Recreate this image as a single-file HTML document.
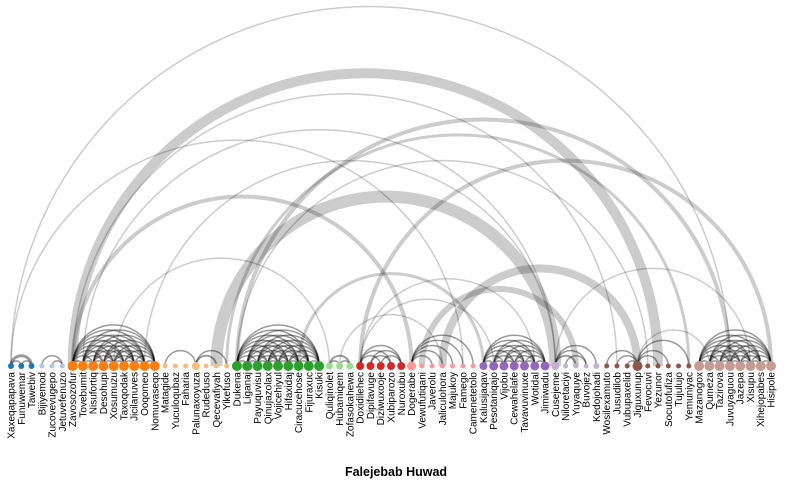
<!DOCTYPE html>
<html><head><meta charset="utf-8">
<style>
html,body{margin:0;padding:0;background:#fff;}
svg{display:block;font-family:"Liberation Sans",sans-serif;}
</style></head>
<body>
<svg id="chart" width="786" height="486" viewBox="0 0 786 486">
<g id="links"></g>
<g id="nodes"></g>
<g id="labels"></g>
<text x="396" y="476" text-anchor="middle" font-size="12.5" font-weight="bold" fill="#000">Falejebab Huwad</text>
</svg>
<script>
const nodeNames = ["Xaxeqapapava","Funuwemar","Tawebiv","Bijiyemod","Zucovevugepo","Jetuvefenuzo","Zavosozofur","Tovebumit","Nisufortiq","Desohupi","Xosumuzu","Taxoqodak","Jicilanuves","Ooqomeo","Nomuvaseqo","Matagide","Yuculoqubaz","Faharia","Palunaxoyuza","Rudeduso","Qecevafiyah","Yikefuso","Dukena","Liganaj","Payuquvisu","Qinujazolax","Vojicehiyul","Hifaxidaj","Ciracucehose","Fijuraxuc","Kisuki","Quliqinolet","Hubamiqem","Zofasokahewa","Doxidilehec","Dipifavuge","Diziwuxooje","Xubiparozo","Nuroxubu","Dogerabe","Vewufutiqani","Javerolu","Jaliculohora","Majukoy","Famego","Camenetetolo","Kalusijaqav","Pesotaniqajo","Vijobu","Cewahelafe","Tavavuvinuxe","Wotidal","Jimiwadu","Cusejeme","Niloretaciyi","Yuyaquye","Buvojez","Kedojohadi","Wosilexamuto","Jusudilob","Vubupaxelid","Jiguxunup","Fevocuvi","Yezunor","Socutofufiza","Tujulujo","Yemuniyac","Mazanogox","Qumeza","Tazirova","Juvuyaguou","Jazepa","Xisupu","Xihejopabes","Hisipole"];
const nodeGroups = [0,0,0,1,1,1,2,2,2,2,2,2,2,2,2,3,3,3,3,3,3,3,4,4,4,4,4,4,4,4,4,5,5,5,6,6,6,6,6,7,7,7,7,7,7,7,8,8,8,8,8,8,8,9,9,9,9,9,10,10,10,10,10,10,10,10,10,11,11,11,11,11,11,11,11];
const nodeSizes = [3,3,3,2.5,2.5,2.5,5,5,5,5,5,5,5,5,5,2.5,2.5,2.5,4,2.5,2.5,2.5,5,5,5,5,5,5,5,5,5,3.5,3.5,3.5,4,4,4,4,4,4.5,2.5,2.5,2.5,2.5,2.5,2.5,4,4.5,4.5,4.5,4.5,4.5,4.5,4,2.5,2.5,2.5,3,2.5,2.5,2.5,5,2.5,2.5,2.5,2.5,2.5,5,5,5,5,5,5,5,5];
const groupColors = ["#1f77b4","#aec7e8","#ff7f0e","#ffbb78","#2ca02c","#98df8a","#d62728","#ff9896","#9467bd","#c5b0d5","#8c564b","#c49c94"];
const linkSources = [0,0,0,1,0,3,4,6,6,7,6,10,13,20,22,21,22,28,34,34,34,32,42,40,53,61,15,18,18,31,32,31,34,34,35,36,35,34,39,39,39,39,39,53,53,53,54,58,59,60,61,61,61,
6,6,6,6,6,6,6,6,7,7,7,7,7,7,7,8,8,8,8,8,8,9,9,9,9,9,10,10,10,10,11,11,11,12,12,13,
22,22,22,22,22,22,22,22,23,23,23,23,23,23,23,24,24,24,24,24,24,25,25,25,25,25,26,26,26,26,27,27,27,28,28,29,
46,46,46,46,46,46,47,47,47,47,47,48,48,48,48,49,49,49,50,50,51,
67,67,67,67,67,67,67,68,68,68,68,68,68,69,69,69,69,69,70,70,70,70,71,71,71,72,72,73];
const linkTargets = [70,44,2,2,1,5,5,63,59,53,39,31,53,53,70,66,62,46,74,51,47,42,61,55,72,68,18,20,21,33,33,32,38,36,37,38,38,37,41,42,43,44,45,55,56,57,56,61,61,61,63,64,66,
7,8,9,10,11,12,13,14,8,9,10,11,12,13,14,9,10,11,12,13,14,10,11,12,13,14,11,12,13,14,12,13,14,13,14,14,
23,24,25,26,27,28,29,30,24,25,26,27,28,29,30,25,26,27,28,29,30,26,27,28,29,30,27,28,29,30,28,29,30,29,30,30,
47,48,49,50,51,52,48,49,50,51,52,49,50,51,52,50,51,52,51,52,52,
68,69,70,71,72,73,74,69,70,71,72,73,74,70,71,72,73,74,71,72,73,74,72,73,74,73,74,74];
const linkWeights = [1.5,1.5,3,1.5,1.5,1.5,1.5,10,1.5,1.5,4,1.5,1.5,12,4,3,1.5,3,4,1.5,1.5,1.5,8,6,1.5,1.5,1.5,2,1.5,2,1.5,1.5,1.5,1.5,1.5,1.5,1.5,1.5,1.5,1.5,1.5,1.5,1.5,2,1.5,1.5,1.5,1.5,1.5,1.5,1.5,1.5,1.5,
1.5,1.5,1.5,1.5,1.5,1.5,1.5,1.5,1.5,1.5,1.5,1.5,1.5,1.5,1.5,1.5,1.5,1.5,1.5,1.5,1.5,1.5,1.5,1.5,1.5,1.5,1.5,1.5,1.5,1.5,1.5,1.5,1.5,1.5,1.5,1.5,
1.5,1.5,1.5,1.5,1.5,1.5,1.5,1.5,1.5,1.5,1.5,1.5,1.5,1.5,1.5,1.5,1.5,1.5,1.5,1.5,1.5,1.5,1.5,1.5,1.5,1.5,1.5,1.5,1.5,1.5,1.5,1.5,1.5,1.5,1.5,1.5,
1.5,1.5,1.5,1.5,1.5,1.5,1.5,1.5,1.5,1.5,1.5,1.5,1.5,1.5,1.5,1.5,1.5,1.5,1.5,1.5,1.5,
1.5,1.5,1.5,1.5,1.5,1.5,1.5,1.5,1.5,1.5,1.5,1.5,1.5,1.5,1.5,1.5,1.5,1.5,1.5,1.5,1.5,1.5,1.5,1.5,1.5,1.5,1.5,1.5];

const NS = "http://www.w3.org/2000/svg";
const baseY = 366;
function xScale(i){ return 11 + i * (760 / (nodeNames.length - 1)); }

const gl = document.getElementById("links");
for (let k = 0; k < linkSources.length; k++) {
  const s = linkSources[k], t2 = linkTargets[k];
  const x1 = xScale(s), x2 = xScale(t2);
  const r = Math.abs(x2 - x1) / 2;
  const p = document.createElementNS(NS, "path");
  p.setAttribute("d", "M" + x1 + "," + baseY + " A" + r + "," + r + " 0 0,1 " + x2 + "," + baseY);
  p.setAttribute("fill", "none");
  p.setAttribute("stroke", "#000");
  p.setAttribute("stroke-opacity", nodeGroups[s] === nodeGroups[t2] ? "0.4" : "0.2");
  p.setAttribute("stroke-width", linkWeights[k]);
  
  
  gl.appendChild(p);
}
const gn = document.getElementById("nodes");
const gt = document.getElementById("labels");
for (let i = 0; i < nodeNames.length; i++) {
  const x = xScale(i);
  const c = document.createElementNS(NS, "circle");
  c.setAttribute("cx", x);
  c.setAttribute("cy", baseY);
  c.setAttribute("r", nodeSizes[i]);
  c.setAttribute("fill", groupColors[nodeGroups[i]]);
  
  
  gn.appendChild(c);
  const t = document.createElementNS(NS, "text");
  t.setAttribute("transform", "translate(" + (x + 3.5) + "," + (baseY + 6) + ") rotate(-90)");
  t.setAttribute("text-anchor", "end");
  t.setAttribute("font-size", "10");
  t.setAttribute("fill", "#000");
  t.textContent = nodeNames[i];
  
  
  gt.appendChild(t);
}
</script>
</body></html>
